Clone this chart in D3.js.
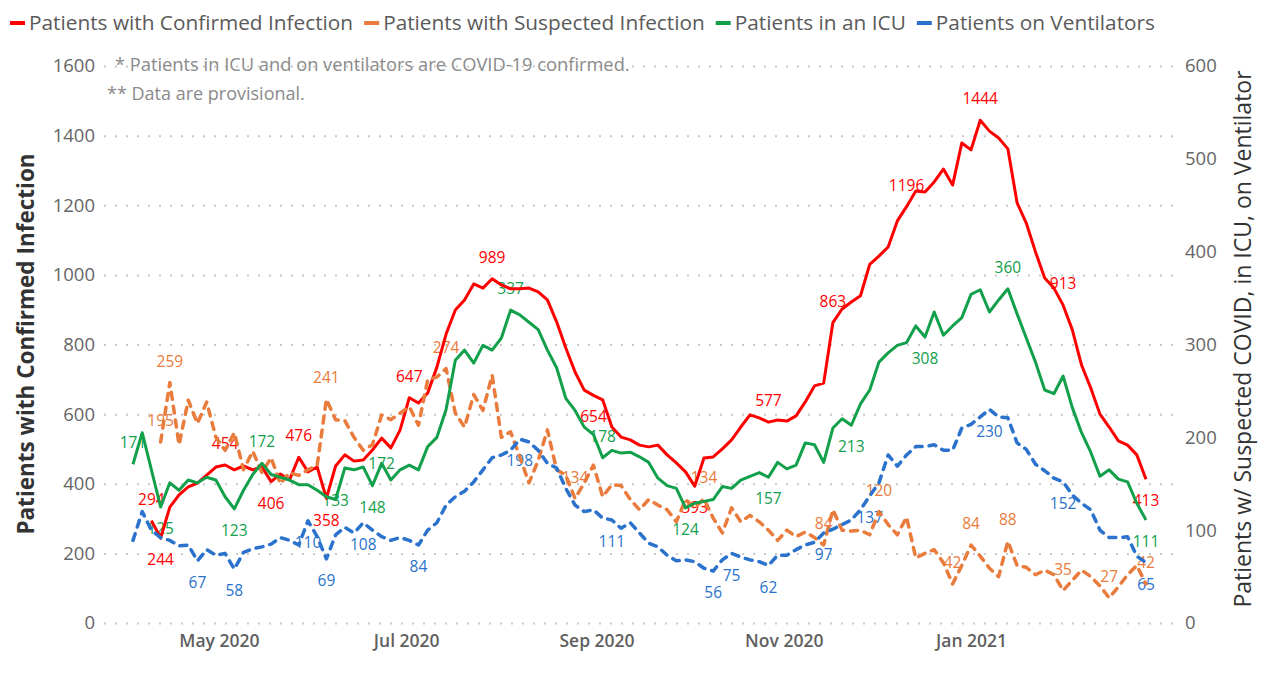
<!DOCTYPE html>
<html>
<head>
<meta charset="utf-8">
<script src="https://cdn.jsdelivr.net/npm/d3@7"></script>
<style>
  body{margin:0;background:#fff;font-family:'Open Sans',sans-serif}
  svg{display:block}
</style>
</head>
<body>
<svg id="chart" width="1263" height="691"></svg>
<script>
// ── data: one reading every 3 days, starting 3 Apr 2020 ──
const startDate = new Date(2020, 3, 3);
const stepDays = 3;

const confirmed = [null,null,294,244,333,368,391,402,425,448,454,440,451,440,448,406,428,411,476,434,
  448,358,451,483,465,468,497,531,503,554,647,632,661,735,830,899,928,974,962,989,
  971,960,960,962,951,928,865,790,721,669,654,641,563,534,526,511,506,511,483,460,
  434,393,474,477,500,526,563,598,589,577,583,580,595,635,681,689,863,902,922,940,
  1030,1054,1080,1155,1196,1241,1238,1267,1304,1258,1379,1359,1444,1413,1393,1362,1207,1149,1066,991,
  962,913,842,741,675,600,563,523,511,483,413];
const suspected = [null,null,null,195,259,192,240,215,238,200,186,205,165,185,162,178,150,162,159,165,
  170,241,219,218,200,186,192,224,219,226,233,213,262,265,274,226,211,246,229,267,
  200,206,179,151,175,208,165,159,134,151,170,136,149,148,133,122,133,127,122,109,
  133,124,134,113,97,124,109,116,109,100,89,100,93,98,92,84,122,100,99,100,
  95,120,106,95,114,70,75,79,65,42,62,84,72,59,50,88,62,60,52,57,
  52,35,46,57,50,40,27,39,52,62,42];
const icu = [171,205,165,125,151,143,154,151,157,154,136,123,143,160,172,160,157,154,149,149,
  143,136,133,167,165,168,148,172,154,165,170,165,190,200,230,283,294,280,299,294,
  307,337,332,324,316,294,275,242,229,211,203,178,186,183,184,179,173,156,148,145,
  124,129,131,133,147,145,154,158,162,157,173,166,170,194,192,173,210,220,213,236,
  251,281,291,299,302,320,308,335,310,320,329,354,359,335,348,360,333,307,281,251,
  247,266,232,205,184,158,165,155,152,129,111];
const ventilator = [89,120,100,92,89,83,84,67,79,73,75,58,76,80,82,85,92,89,84,110,
  93,69,95,103,97,108,100,93,89,92,89,84,100,108,127,136,142,152,165,178,
  181,186,198,195,186,172,167,145,127,120,122,113,111,102,108,97,86,82,73,67,
  68,66,59,56,68,75,71,68,66,62,73,73,79,84,87,97,101,106,111,122,
  137,151,181,169,181,190,190,192,186,186,210,214,222,230,222,221,194,187,171,164,
  156,152,138,129,122,100,92,92,93,72,65];

const leftTicks = [0, 200, 400, 600, 800, 1000, 1200, 1400, 1600];
const rightTicks = [0, 100, 200, 300, 400, 500, 600];
const xTicks = [new Date(2020, 4, 1), new Date(2020, 6, 1), new Date(2020, 8, 1), new Date(2020, 10, 1), new Date(2021, 0, 1)];

// which points carry a value label
const confirmedLabels = [[2,'above'],[3,'below'],[10,'above'],[15,'below'],[18,'above'],[21,'below'],[30,'above'],[39,'above'],
  [50,'below'],[61,'below'],[69,'above'],[76,'above'],[84,'above'],[92,'above'],[101,'above'],[110,'below']];
const suspectedLabels = [[3,'above'],[4,'above'],[21,'above'],[34,'above'],[48,'above'],[62,'above'],[75,'above'],[81,'above'],
  [89,'above'],[91,'above'],[95,'above'],[101,'above'],[106,'above'],[110,'above']];
const icuLabels = [[0,'above'],[3,'below'],[11,'below'],[14,'above'],[22,'on'],[26,'below'],[27,'on'],[41,'above'],
  [51,'above'],[60,'below'],[69,'below'],[78,'below'],[86,'below'],[95,'above'],[110,'below']];
const ventilatorLabels = [[7,'below'],[11,'below'],[19,'below'],[21,'below'],[25,'below'],[31,'below'],[42,'below'],[52,'below'],
  [63,'below'],[65,'below'],[69,'below'],[75,'below'],[80,'below'],[93,'below'],[101,'below'],[110,'below']];

const series = [
  { name: 'Patients with Confirmed Infection', values: confirmed, labels: confirmedLabels, axis: 'left', color: '#ff0000', dashed: false },
  { name: 'Patients with Suspected Infection', values: suspected, labels: suspectedLabels, axis: 'right', color: '#e97b3c', dashed: true },
  { name: 'Patients in an ICU', values: icu, labels: icuLabels, axis: 'right', color: '#12a04b', dashed: false },
  { name: 'Patients on Ventilators', values: ventilator, labels: ventilatorLabels, axis: 'right', color: '#2a72cc', dashed: true },
];

const svg = d3.select('#chart');
const plot = { left: 104, right: 1174, top: 66, bottom: 623 };
const dateAt = i => d3.timeDay.offset(startDate, i * stepDays);

const x = d3.scaleTime().domain([startDate, dateAt(confirmed.length - 1)]).range([133, 1146]);
const yL = d3.scaleLinear().domain([0, 1600]).range([plot.bottom, plot.top]);
const yR = d3.scaleLinear().domain([0, 600]).range([plot.bottom, plot.top]);

/* ── gridlines ── */
const grid = svg.append('g').attr('transform', `translate(${plot.left},0)`)
  .call(d3.axisLeft(yL).tickValues(leftTicks).tickSize(-(plot.right - plot.left)).tickFormat(''));
grid.select('.domain').remove();
grid.selectAll('.tick line').attr('stroke', '#c8c8c8').attr('stroke-width', 2).attr('stroke-dasharray', '2,9');

/* ── axes ── */
const axL = svg.append('g').attr('transform', `translate(${plot.left},0)`)
  .call(d3.axisLeft(yL).tickValues(leftTicks).tickSize(0).tickPadding(9).tickFormat(d3.format('d')));
const axR = svg.append('g').attr('transform', `translate(${plot.right},0)`)
  .call(d3.axisRight(yR).tickValues(rightTicks).tickSize(0).tickPadding(11).tickFormat(d3.format('d')));
const axX = svg.append('g').attr('transform', `translate(0,${plot.bottom})`)
  .call(d3.axisBottom(x).tickValues(xTicks).tickSize(0).tickPadding(12).tickFormat(d3.timeFormat('%b %Y')));
[axL, axR, axX].forEach(a => {
  a.select('.domain').remove();
  a.selectAll('text').attr('fill', '#666').style('font-family', "'Open Sans',sans-serif").style('font-size', '18.5px');
});
axX.selectAll('text').style('font-size', '17.5px').style('font-weight', '600').attr('fill', '#5f5f5f');

svg.append('text').attr('transform', 'translate(28,344) rotate(-90)')
  .attr('text-anchor', 'middle').attr('dominant-baseline', 'middle')
  .attr('fill', '#333').style('font-size', '22.5px').style('font-weight', '700')
  .text('Patients with Confirmed Infection');
svg.append('text').attr('transform', 'translate(1245,339) rotate(-90)')
  .attr('text-anchor', 'middle').attr('dominant-baseline', 'middle')
  .attr('fill', '#333').style('font-size', '23px').style('font-weight', '500')
  .text('Patients w/ Suspected COVID, in ICU, on Ventilator');

/* ── notes ── */
svg.append('text').attr('x', 115).attr('y', 71).attr('fill', '#8a8a8a').style('font-size', '18.3px')
  .text('* Patients in ICU and on ventilators are COVID-19 confirmed.');
svg.append('text').attr('x', 107).attr('y', 100).attr('fill', '#8a8a8a').style('font-size', '18px')
  .text('** Data are provisional.');

/* ── value labels (drawn under the lines) ── */
const offsets = { above: -20, below: 23, on: 2 };
series.forEach(s => {
  const y = s.axis === 'left' ? yL : yR;
  svg.append('g').selectAll('text').data(s.labels).enter().append('text')
    .attr('x', d => x(dateAt(d[0])))
    .attr('y', d => y(s.values[d[0]]) + offsets[d[1]])
    .attr('text-anchor', 'middle').attr('dominant-baseline', 'middle')
    .attr('fill', s.color).style('font-size', '15.5px')
    .text(d => s.values[d[0]]);
});

/* ── lines ── */
series.forEach(s => {
  const y = s.axis === 'left' ? yL : yR;
  const line = d3.line().defined(v => v != null).x((v, i) => x(dateAt(i))).y(v => y(v));
  svg.append('path').datum(s.values).attr('d', line)
    .attr('fill', 'none').attr('stroke', s.color)
    .attr('stroke-width', s.dashed ? 3.5 : 3)
    .attr('stroke-linejoin', 'round').attr('stroke-linecap', s.dashed ? 'round' : 'butt')
    .attr('stroke-dasharray', s.dashed ? '7,7' : null);
});

/* ── legend ── */
let lx = 10;
series.forEach(s => {
  svg.append('line').attr('x1', lx).attr('x2', lx + 15).attr('y1', 23).attr('y2', 23)
    .attr('stroke', s.color).attr('stroke-width', 4);
  const t = svg.append('text').attr('x', lx + 19).attr('y', 24).attr('dominant-baseline', 'middle')
    .attr('fill', '#5a5a5a').style('font-size', '20.8px').text(s.name);
  lx += 19 + t.node().getComputedTextLength() + 11;
});
</script>
</body>
</html>
